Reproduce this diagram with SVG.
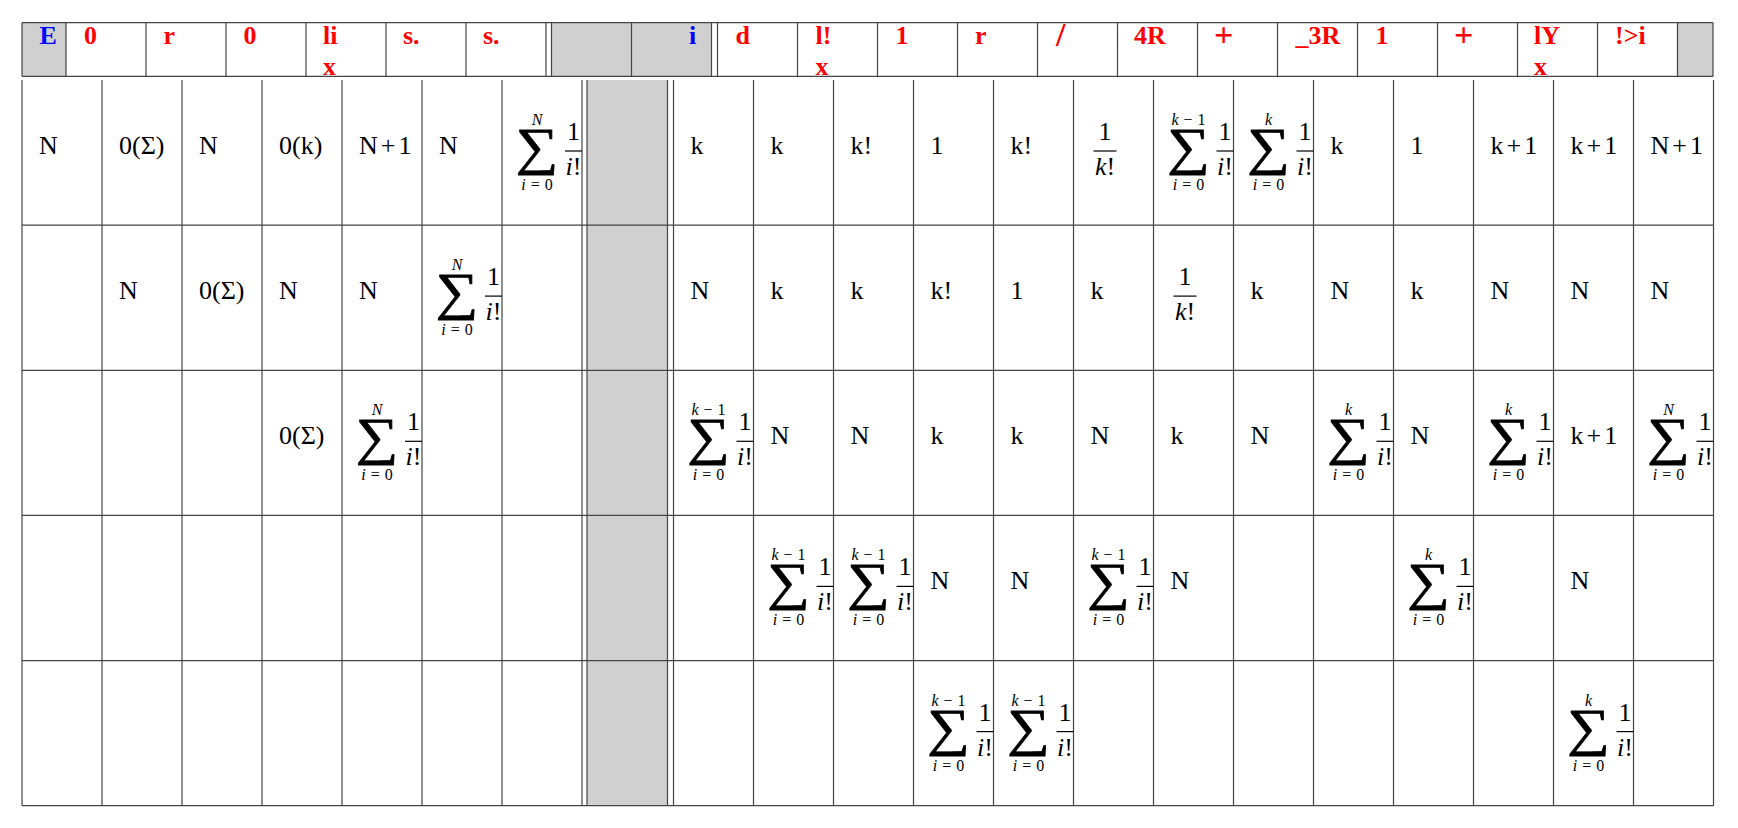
<svg xmlns="http://www.w3.org/2000/svg" width="1738" height="828" viewBox="0 0 1738 828">
<style>
.ln{stroke:#444;stroke-width:1.2;fill:none}
.gr{fill:#d0d0d0}
.h{font-family:"Liberation Serif",serif;font-weight:bold;font-size:26px;fill:#f00}
.hb{fill:#00f}
.big{font-size:34px}
.t{font-family:"Liberation Serif",serif;font-size:26px;fill:#000}
.sg{font-family:"Liberation Serif",serif;font-size:52px;text-anchor:middle;fill:#000;stroke:#000;stroke-width:0.7}
.lm{font-family:"Liberation Serif",serif;font-size:16px;text-anchor:middle;fill:#000}
.fr{font-family:"Liberation Serif",serif;font-size:26px;text-anchor:middle;fill:#000}
.it{font-style:italic}
.fb{stroke:#000;stroke-width:1.2}
</style>
<rect width="1738" height="828" fill="#fff"/>
<g id="header">
<rect class="gr" x="22" y="22.7" width="44" height="53.6"/>
<rect class="gr" x="551.5" y="22.7" width="160" height="53.6"/>
<rect class="gr" x="1677.5" y="22.7" width="35.5" height="53.6"/>
<path class="ln" d="M22 22.7H1713M22 76.3H1713M22 22.7V76.3M66 22.7V76.3M146 22.7V76.3M226 22.7V76.3M306 22.7V76.3M386 22.7V76.3M466 22.7V76.3M546 22.7V76.3M551.5 22.7V76.3M631.5 22.7V76.3M711.5 22.7V76.3M717.5 22.7V76.3M797.5 22.7V76.3M877.5 22.7V76.3M957.5 22.7V76.3M1037.5 22.7V76.3M1117.5 22.7V76.3M1197.5 22.7V76.3M1277.5 22.7V76.3M1357.5 22.7V76.3M1437.5 22.7V76.3M1517.5 22.7V76.3M1597.5 22.7V76.3M1677.5 22.7V76.3M1713 22.7V76.3"/>
<text class="h hb" x="39.5" y="43.5">E</text>
<text class="h" x="84" y="43.5">0</text>
<text class="h" x="163.5" y="43.5">r</text>
<text class="h" x="243.5" y="43.5">0</text>
<text class="h" x="323" y="43.5">li<tspan x="323" y="75">x</tspan></text>
<text class="h" x="403" y="43.5">s.</text>
<text class="h" x="483" y="43.5">s.</text>
<text class="h hb" x="689" y="43.5">i</text>
<text class="h" x="735.5" y="43.5">d</text>
<text class="h" x="815.5" y="43.5">l!<tspan x="815.5" y="75">x</tspan></text>
<text class="h" x="895.5" y="43.5">1</text>
<text class="h" x="975" y="43.5">r</text>
<text class="h big" x="1056" y="46">/</text>
<text class="h" x="1134" y="43.5">4R</text>
<text class="h big" x="1214" y="46">+</text>
<text class="h" x="1295.5" y="43.5">_3R</text>
<text class="h" x="1375.5" y="43.5">1</text>
<text class="h big" x="1454" y="46">+</text>
<text class="h" x="1534" y="43.5">lY<tspan x="1534" y="75">x</tspan></text>
<text class="h" x="1615" y="43.5">!&gt;i</text>
</g>
<g id="grid">
<rect class="gr" x="587" y="80" width="80.5" height="725.7"/>
<path class="ln" d="M22 225.1H1713.5M22 370.3H1713.5M22 515.4H1713.5M22 660.6H1713.5M22 805.7H1713.5M22 80V805.7M102 80V805.7M182 80V805.7M262 80V805.7M342 80V805.7M422 80V805.7M502 80V805.7M582 80V805.7M587 80V805.7M667.5 80V805.7M673.5 80V805.7M753.5 80V805.7M833.5 80V805.7M913.5 80V805.7M993.5 80V805.7M1073.5 80V805.7M1153.5 80V805.7M1233.5 80V805.7M1313.5 80V805.7M1393.5 80V805.7M1473.5 80V805.7M1553.5 80V805.7M1633.5 80V805.7M1713.5 80V805.7"/>
</g>
<g id="row1">
<text class="t" x="39" y="153.5">N</text>
<text class="t" x="119" y="153.5">0(Σ)</text>
<text class="t" x="199" y="153.5">N</text>
<text class="t" x="279" y="153.5">0(k)</text>
<text class="t" x="359" y="153.5">N<tspan dx="3">+</tspan><tspan dx="3">1</tspan></text>
<text class="t" x="439" y="153.5">N</text>
<g transform="translate(502,80)"><text class="sg" transform="translate(35 84) scale(1.15 1)">∑</text><text class="lm it" x="35" y="45">N</text><text class="lm" x="35" y="110"><tspan class="it">i</tspan><tspan dx="5">=</tspan><tspan dx="5">0</tspan></text><line class="fb" x1="63" y1="71" x2="80" y2="71"/><text class="fr" x="71.5" y="60">1</text><text class="fr" x="71.5" y="95"><tspan class="it">i</tspan>!</text></g>
<text class="t" x="690.5" y="153.5">k</text>
<text class="t" x="770.5" y="153.5">k</text>
<text class="t" x="850.5" y="153.5">k!</text>
<text class="t" x="930.5" y="153.5">1</text>
<text class="t" x="1010.5" y="153.5">k!</text>
<g transform="translate(1073.5,80)"><line class="fb" x1="20" y1="71" x2="43" y2="71"/><text class="fr" x="31.5" y="60">1</text><text class="fr" x="31.5" y="95"><tspan class="it">k</tspan>!</text></g>
<g transform="translate(1153.5,80)"><text class="sg" transform="translate(35 84) scale(1.15 1)">∑</text><text class="lm" x="35" y="45"><tspan class="it">k</tspan><tspan dx="5">−</tspan><tspan dx="5">1</tspan></text><text class="lm" x="35" y="110"><tspan class="it">i</tspan><tspan dx="5">=</tspan><tspan dx="5">0</tspan></text><line class="fb" x1="63" y1="71" x2="80" y2="71"/><text class="fr" x="71.5" y="60">1</text><text class="fr" x="71.5" y="95"><tspan class="it">i</tspan>!</text></g>
<g transform="translate(1233.5,80)"><text class="sg" transform="translate(35 84) scale(1.15 1)">∑</text><text class="lm it" x="35" y="45">k</text><text class="lm" x="35" y="110"><tspan class="it">i</tspan><tspan dx="5">=</tspan><tspan dx="5">0</tspan></text><line class="fb" x1="63" y1="71" x2="80" y2="71"/><text class="fr" x="71.5" y="60">1</text><text class="fr" x="71.5" y="95"><tspan class="it">i</tspan>!</text></g>
<text class="t" x="1330.5" y="153.5">k</text>
<text class="t" x="1410.5" y="153.5">1</text>
<text class="t" x="1490.5" y="153.5">k<tspan dx="3">+</tspan><tspan dx="3">1</tspan></text>
<text class="t" x="1570.5" y="153.5">k<tspan dx="3">+</tspan><tspan dx="3">1</tspan></text>
<text class="t" x="1650.5" y="153.5">N<tspan dx="3">+</tspan><tspan dx="3">1</tspan></text>
</g>
<g id="row2">
<text class="t" x="119" y="298.6">N</text>
<text class="t" x="199" y="298.6">0(Σ)</text>
<text class="t" x="279" y="298.6">N</text>
<text class="t" x="359" y="298.6">N</text>
<g transform="translate(422,225.1)"><text class="sg" transform="translate(35 84) scale(1.15 1)">∑</text><text class="lm it" x="35" y="45">N</text><text class="lm" x="35" y="110"><tspan class="it">i</tspan><tspan dx="5">=</tspan><tspan dx="5">0</tspan></text><line class="fb" x1="63" y1="71" x2="80" y2="71"/><text class="fr" x="71.5" y="60">1</text><text class="fr" x="71.5" y="95"><tspan class="it">i</tspan>!</text></g>
<text class="t" x="690.5" y="298.6">N</text>
<text class="t" x="770.5" y="298.6">k</text>
<text class="t" x="850.5" y="298.6">k</text>
<text class="t" x="930.5" y="298.6">k!</text>
<text class="t" x="1010.5" y="298.6">1</text>
<text class="t" x="1090.5" y="298.6">k</text>
<g transform="translate(1153.5,225.1)"><line class="fb" x1="20" y1="71" x2="43" y2="71"/><text class="fr" x="31.5" y="60">1</text><text class="fr" x="31.5" y="95"><tspan class="it">k</tspan>!</text></g>
<text class="t" x="1250.5" y="298.6">k</text>
<text class="t" x="1330.5" y="298.6">N</text>
<text class="t" x="1410.5" y="298.6">k</text>
<text class="t" x="1490.5" y="298.6">N</text>
<text class="t" x="1570.5" y="298.6">N</text>
<text class="t" x="1650.5" y="298.6">N</text>
</g>
<g id="row3">
<text class="t" x="279" y="443.8">0(Σ)</text>
<g transform="translate(342,370.3)"><text class="sg" transform="translate(35 84) scale(1.15 1)">∑</text><text class="lm it" x="35" y="45">N</text><text class="lm" x="35" y="110"><tspan class="it">i</tspan><tspan dx="5">=</tspan><tspan dx="5">0</tspan></text><line class="fb" x1="63" y1="71" x2="80" y2="71"/><text class="fr" x="71.5" y="60">1</text><text class="fr" x="71.5" y="95"><tspan class="it">i</tspan>!</text></g>
<g transform="translate(673.5,370.3)"><text class="sg" transform="translate(35 84) scale(1.15 1)">∑</text><text class="lm" x="35" y="45"><tspan class="it">k</tspan><tspan dx="5">−</tspan><tspan dx="5">1</tspan></text><text class="lm" x="35" y="110"><tspan class="it">i</tspan><tspan dx="5">=</tspan><tspan dx="5">0</tspan></text><line class="fb" x1="63" y1="71" x2="80" y2="71"/><text class="fr" x="71.5" y="60">1</text><text class="fr" x="71.5" y="95"><tspan class="it">i</tspan>!</text></g>
<text class="t" x="770.5" y="443.8">N</text>
<text class="t" x="850.5" y="443.8">N</text>
<text class="t" x="930.5" y="443.8">k</text>
<text class="t" x="1010.5" y="443.8">k</text>
<text class="t" x="1090.5" y="443.8">N</text>
<text class="t" x="1170.5" y="443.8">k</text>
<text class="t" x="1250.5" y="443.8">N</text>
<g transform="translate(1313.5,370.3)"><text class="sg" transform="translate(35 84) scale(1.15 1)">∑</text><text class="lm it" x="35" y="45">k</text><text class="lm" x="35" y="110"><tspan class="it">i</tspan><tspan dx="5">=</tspan><tspan dx="5">0</tspan></text><line class="fb" x1="63" y1="71" x2="80" y2="71"/><text class="fr" x="71.5" y="60">1</text><text class="fr" x="71.5" y="95"><tspan class="it">i</tspan>!</text></g>
<text class="t" x="1410.5" y="443.8">N</text>
<g transform="translate(1473.5,370.3)"><text class="sg" transform="translate(35 84) scale(1.15 1)">∑</text><text class="lm it" x="35" y="45">k</text><text class="lm" x="35" y="110"><tspan class="it">i</tspan><tspan dx="5">=</tspan><tspan dx="5">0</tspan></text><line class="fb" x1="63" y1="71" x2="80" y2="71"/><text class="fr" x="71.5" y="60">1</text><text class="fr" x="71.5" y="95"><tspan class="it">i</tspan>!</text></g>
<text class="t" x="1570.5" y="443.8">k<tspan dx="3">+</tspan><tspan dx="3">1</tspan></text>
<g transform="translate(1633.5,370.3)"><text class="sg" transform="translate(35 84) scale(1.15 1)">∑</text><text class="lm it" x="35" y="45">N</text><text class="lm" x="35" y="110"><tspan class="it">i</tspan><tspan dx="5">=</tspan><tspan dx="5">0</tspan></text><line class="fb" x1="63" y1="71" x2="80" y2="71"/><text class="fr" x="71.5" y="60">1</text><text class="fr" x="71.5" y="95"><tspan class="it">i</tspan>!</text></g>
</g>
<g id="row4">
<g transform="translate(753.5,515.4)"><text class="sg" transform="translate(35 84) scale(1.15 1)">∑</text><text class="lm" x="35" y="45"><tspan class="it">k</tspan><tspan dx="5">−</tspan><tspan dx="5">1</tspan></text><text class="lm" x="35" y="110"><tspan class="it">i</tspan><tspan dx="5">=</tspan><tspan dx="5">0</tspan></text><line class="fb" x1="63" y1="71" x2="80" y2="71"/><text class="fr" x="71.5" y="60">1</text><text class="fr" x="71.5" y="95"><tspan class="it">i</tspan>!</text></g>
<g transform="translate(833.5,515.4)"><text class="sg" transform="translate(35 84) scale(1.15 1)">∑</text><text class="lm" x="35" y="45"><tspan class="it">k</tspan><tspan dx="5">−</tspan><tspan dx="5">1</tspan></text><text class="lm" x="35" y="110"><tspan class="it">i</tspan><tspan dx="5">=</tspan><tspan dx="5">0</tspan></text><line class="fb" x1="63" y1="71" x2="80" y2="71"/><text class="fr" x="71.5" y="60">1</text><text class="fr" x="71.5" y="95"><tspan class="it">i</tspan>!</text></g>
<text class="t" x="930.5" y="588.9">N</text>
<text class="t" x="1010.5" y="588.9">N</text>
<g transform="translate(1073.5,515.4)"><text class="sg" transform="translate(35 84) scale(1.15 1)">∑</text><text class="lm" x="35" y="45"><tspan class="it">k</tspan><tspan dx="5">−</tspan><tspan dx="5">1</tspan></text><text class="lm" x="35" y="110"><tspan class="it">i</tspan><tspan dx="5">=</tspan><tspan dx="5">0</tspan></text><line class="fb" x1="63" y1="71" x2="80" y2="71"/><text class="fr" x="71.5" y="60">1</text><text class="fr" x="71.5" y="95"><tspan class="it">i</tspan>!</text></g>
<text class="t" x="1170.5" y="588.9">N</text>
<g transform="translate(1393.5,515.4)"><text class="sg" transform="translate(35 84) scale(1.15 1)">∑</text><text class="lm it" x="35" y="45">k</text><text class="lm" x="35" y="110"><tspan class="it">i</tspan><tspan dx="5">=</tspan><tspan dx="5">0</tspan></text><line class="fb" x1="63" y1="71" x2="80" y2="71"/><text class="fr" x="71.5" y="60">1</text><text class="fr" x="71.5" y="95"><tspan class="it">i</tspan>!</text></g>
<text class="t" x="1570.5" y="588.9">N</text>
</g>
<g id="row5">
<g transform="translate(913.5,660.6)"><text class="sg" transform="translate(35 84) scale(1.15 1)">∑</text><text class="lm" x="35" y="45"><tspan class="it">k</tspan><tspan dx="5">−</tspan><tspan dx="5">1</tspan></text><text class="lm" x="35" y="110"><tspan class="it">i</tspan><tspan dx="5">=</tspan><tspan dx="5">0</tspan></text><line class="fb" x1="63" y1="71" x2="80" y2="71"/><text class="fr" x="71.5" y="60">1</text><text class="fr" x="71.5" y="95"><tspan class="it">i</tspan>!</text></g>
<g transform="translate(993.5,660.6)"><text class="sg" transform="translate(35 84) scale(1.15 1)">∑</text><text class="lm" x="35" y="45"><tspan class="it">k</tspan><tspan dx="5">−</tspan><tspan dx="5">1</tspan></text><text class="lm" x="35" y="110"><tspan class="it">i</tspan><tspan dx="5">=</tspan><tspan dx="5">0</tspan></text><line class="fb" x1="63" y1="71" x2="80" y2="71"/><text class="fr" x="71.5" y="60">1</text><text class="fr" x="71.5" y="95"><tspan class="it">i</tspan>!</text></g>
<g transform="translate(1553.5,660.6)"><text class="sg" transform="translate(35 84) scale(1.15 1)">∑</text><text class="lm it" x="35" y="45">k</text><text class="lm" x="35" y="110"><tspan class="it">i</tspan><tspan dx="5">=</tspan><tspan dx="5">0</tspan></text><line class="fb" x1="63" y1="71" x2="80" y2="71"/><text class="fr" x="71.5" y="60">1</text><text class="fr" x="71.5" y="95"><tspan class="it">i</tspan>!</text></g>
</g>
</svg>
